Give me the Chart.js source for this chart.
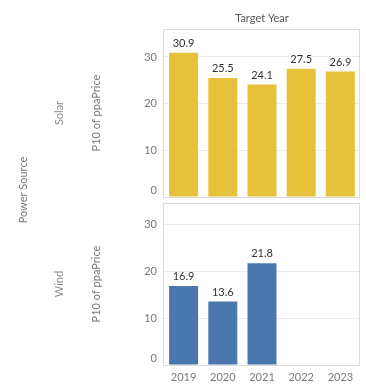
<!DOCTYPE html>
<html>
<head>
<meta charset="utf-8">
<script src="https://cdn.jsdelivr.net/npm/chart.js@4.4.1/dist/chart.umd.min.js"></script>
<style>
html,body{margin:0;padding:0;background:#fff;}
#wrap{position:relative;width:366px;height:386px;overflow:hidden;}
canvas{position:absolute;left:0;}
#c1{top:0;}
#c2{top:200px;}
</style>
</head>
<body>
<div id="wrap">
<canvas id="c1" width="366" height="200"></canvas>
<canvas id="c2" width="366" height="186"></canvas>
</div>
<script>
const years = ['2019', '2020', '2021', '2022', '2023'];
const solarValues = [30.9, 25.5, 24.1, 27.5, 26.9];
const windValues = [16.9, 13.6, 21.8, null, null];
const yTickValues = [0, 10, 20, 30];
const columnTitle = 'Target Year';
const rowTitle = 'Power Source';
const rowLabels = ['Solar', 'Wind'];
const measureTitle = 'P10 of ppaPrice';

const FONT = 'Lato, "Open Sans", sans-serif';
const SOLAR = '#E8C13B';
const WIND = '#4A77AE';

const frame = {
  id: 'frame',
  beforeDatasetsDraw(chart) {
    const a = chart.chartArea, ctx = chart.ctx;
    ctx.save();
    ctx.strokeStyle = '#dcdcdc';
    ctx.lineWidth = 1;
    ctx.strokeRect(Math.round(a.left) - 0.5, Math.round(a.top) + 0.5, Math.round(a.right - a.left), Math.round(a.bottom - a.top));
    ctx.restore();
  }
};

const valueLabels = {
  id: 'valueLabels',
  afterDatasetsDraw(chart) {
    const ctx = chart.ctx;
    ctx.save();
    ctx.font = '11px ' + FONT;
    ctx.fillStyle = '#333';
    ctx.textAlign = 'center';
    ctx.textBaseline = 'bottom';
    chart.data.datasets.forEach((ds, i) => {
      chart.getDatasetMeta(i).data.forEach((el, j) => {
        const v = ds.data[j];
        if (v == null) return;
        ctx.fillText(v.toFixed(1), el.x, el.y - 4);
      });
    });
    ctx.restore();
  }
};

function sideText(rowLabel, extra) {
  return {
    id: 'sideText',
    afterDraw(chart) {
      const ctx = chart.ctx, a = chart.chartArea;
      const cy = (a.top + a.bottom) / 2;
      ctx.save();
      ctx.font = '11px ' + FONT;
      ctx.fillStyle = '#8a8a8a';
      ctx.textAlign = 'center';
      ctx.textBaseline = 'middle';
      ctx.translate(59, cy);
      ctx.rotate(-Math.PI / 2);
      ctx.fillText(rowLabel, 0, 0);
      ctx.restore();
      if (extra) extra(chart);
    }
  };
}

function yScale(max, titleText) {
  return {
    position: 'left',
    min: 0,
    max: max,
    afterBuildTicks: s => { s.ticks = yTickValues.map(v => ({ value: v })); },
    afterFit: s => { s.width = 79; s.paddingTop = 0; s.paddingBottom = 0; },
    border: { display: false },
    grid: { color: '#ececec', drawTicks: false },
    ticks: {
      padding: 7,
      color: '#7a7a7a',
      font: { family: FONT, size: 11 },
      callback: v => v === 0 ? ['0', ''] : String(v)
    },
    title: {
      display: true,
      text: titleText,
      color: '#777',
      font: { family: FONT, size: 11 },
      padding: { top: 5, bottom: 0 }
    }
  };
}

const baseDataset = { barPercentage: 0.74, categoryPercentage: 1.0 };

new Chart(document.getElementById('c1'), {
  type: 'bar',
  data: {
    labels: years,
    datasets: [Object.assign({ label: rowLabels[0], data: solarValues, backgroundColor: SOLAR }, baseDataset)]
  },
  options: {
    responsive: false,
    animation: false,
    devicePixelRatio: 1,
    layout: { padding: { left: 85, top: 29, right: 6, bottom: 3 } },
    plugins: { legend: { display: false }, tooltip: { enabled: false } },
    scales: {
      x: { display: false },
      y: yScale(36, measureTitle)
    }
  },
  plugins: [frame, valueLabels, sideText(rowLabels[0], chart => {
    const ctx = chart.ctx, a = chart.chartArea;
    ctx.save();
    ctx.font = '11px ' + FONT;
    ctx.fillStyle = '#555';
    ctx.textAlign = 'center';
    ctx.textBaseline = 'middle';
    ctx.fillText(columnTitle, (a.left + a.right) / 2, 18);
    ctx.translate(23, 190);
    ctx.rotate(-Math.PI / 2);
    ctx.fillStyle = '#777';
    ctx.fillText(rowTitle, 0, 0);
    ctx.restore();
  })]
});

new Chart(document.getElementById('c2'), {
  type: 'bar',
  data: {
    labels: years,
    datasets: [Object.assign({ label: rowLabels[1], data: windValues, backgroundColor: WIND }, baseDataset)]
  },
  options: {
    responsive: false,
    animation: false,
    devicePixelRatio: 1,
    layout: { padding: { left: 85, top: 3, right: 6, bottom: 0 } },
    plugins: { legend: { display: false }, tooltip: { enabled: false } },
    scales: {
      x: {
        afterFit: s => { s.height = 21; },
        border: { display: false },
        grid: { display: false, drawTicks: false },
        ticks: { padding: 6, color: '#7a7a7a', font: { family: FONT, size: 11 }, maxRotation: 0 }
      },
      y: yScale(34.7, measureTitle)
    }
  },
  plugins: [frame, valueLabels, sideText(rowLabels[1], chart => {
    const ctx = chart.ctx;
    ctx.save();
    ctx.font = '11px ' + FONT;
    ctx.fillStyle = '#777';
    ctx.textAlign = 'center';
    ctx.textBaseline = 'middle';
    ctx.translate(23, -10);
    ctx.rotate(-Math.PI / 2);
    ctx.fillText(rowTitle, 0, 0);
    ctx.restore();
  })]
});
</script>
</body>
</html>
